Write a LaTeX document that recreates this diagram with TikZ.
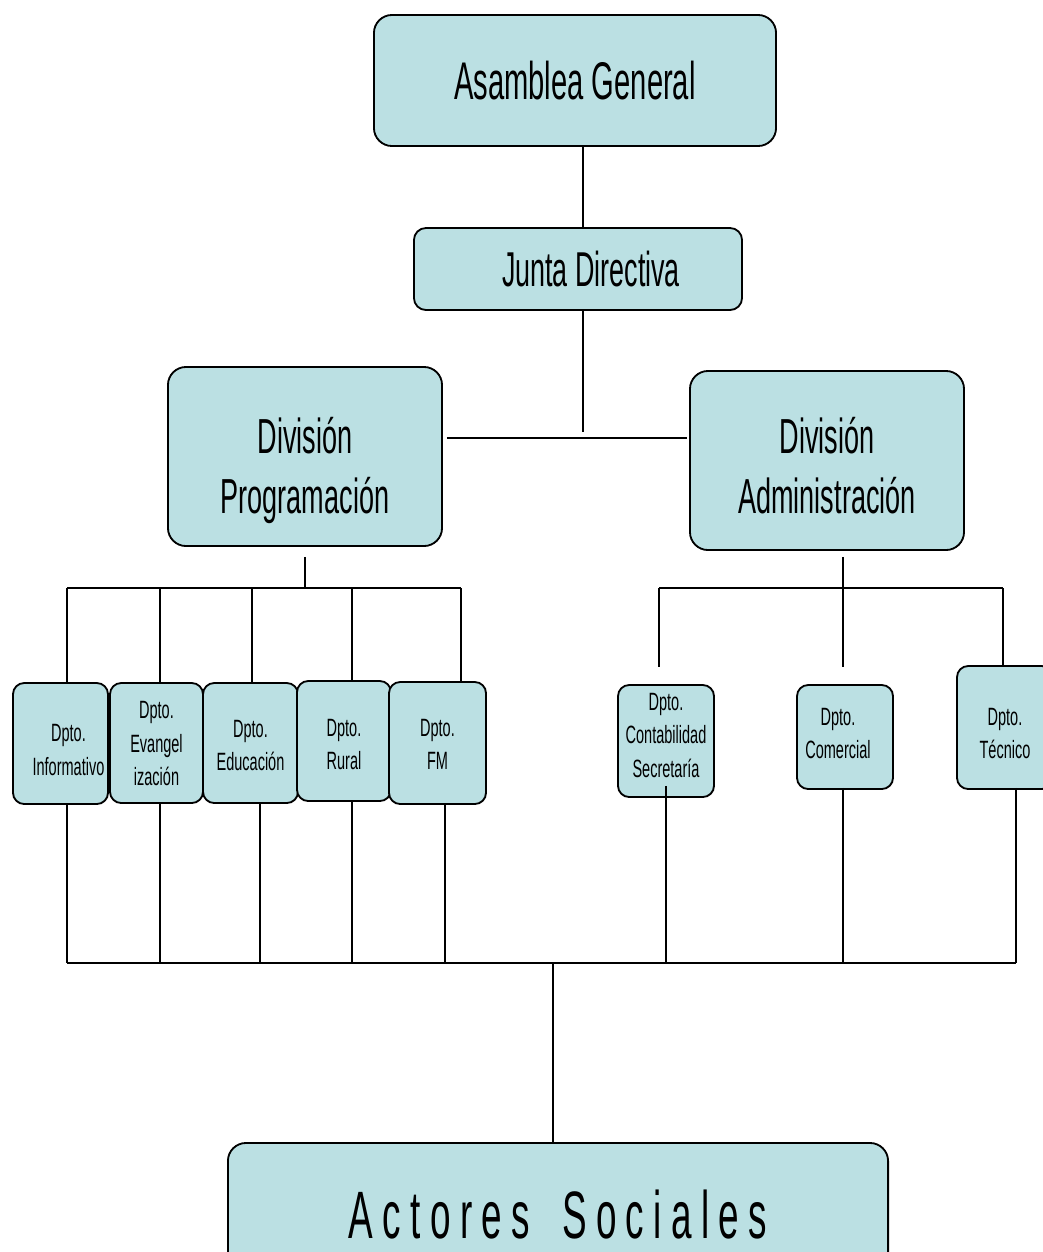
\documentclass[tikz,border=0pt]{standalone}
\usepackage{fontspec}
\setmainfont{Liberation Sans}
\newfontfamily\narrowbig[FakeStretch=0.55]{Liberation Sans}
\newfontfamily\narrowdept[FakeStretch=0.58]{Liberation Sans}
\newfontfamily\narrowwide[FakeStretch=0.55,LetterSpace=14]{Liberation Sans}
\definecolor{boxfill}{RGB}{187,224,227}

\begin{document}
\begin{tikzpicture}[x=0.025cm, y=-0.025cm,
  box/.style={draw=black, line width=1.3pt, fill=boxfill, rounded corners=0.45cm,
    align=center, inner sep=0pt},
  divbox/.style={box, minimum width=6.85cm, minimum height=4.475cm, text depth=0.2cm,
    font=\narrowbig\fontsize{35}{43}\selectfont},
  deptbox/.style={box, rounded corners=0.28cm, minimum width=2.4cm, text depth=0.2cm,
    font=\narrowdept\fontsize{17.8}{24}\selectfont},
  link/.style={line width=1.2pt},
  bus/.style={line width=2pt}]
  \useasboundingbox (0,0) rectangle (1042,1252);

  % top levels
  \node[box, minimum width=10.05cm, minimum height=3.275cm,
    font=\narrowbig\fontsize{37.7}{40}\selectfont] (asm) at (575,80.5) {Asamblea General};
  \node[box, rounded corners=0.3cm, minimum width=8.2cm, minimum height=2.05cm,
    font=\narrowbig\fontsize{34.8}{40}\selectfont] (junta) at (578,269) {\hspace*{0.65cm}Junta Directiva};
  \node[divbox, text height=3.065cm] (divprog) at (305,456.5) {División\\Programación};
  \node[divbox, text height=2.865cm] (divadm) at (827,460.5) {División\\Administración};

  % departamentos
  \node[deptbox, minimum width=2.375cm, minimum height=3.025cm, text height=1.785cm] (inf) at (60.5,743.5)
    {\hspace*{0.4cm}Dpto.\\\hspace*{0.4cm}Informativo};
  \node[deptbox, minimum width=2.325cm, minimum height=3cm, text height=2.34cm] (evan) at (156.5,743)
    {Dpto.\\Evangel\\ización};
  \node[deptbox, minimum width=2.375cm, minimum height=3cm, text height=1.5875cm] (edu) at (250.5,743)
    {Dpto.\\Educación};
  \node[deptbox, minimum width=2.35cm, minimum height=3cm, text height=1.6375cm] (rur) at (344,741)
    {Dpto.\\Rural};
  \node[deptbox, minimum width=2.425cm, minimum height=3.05cm, text height=1.5375cm] (fm) at (437.5,743)
    {Dpto.\\FM};
  \node[deptbox, minimum height=2.8cm, text height=2.025cm] (cont) at (666,741)
    {Dpto.\\Contabilidad\\Secretaría};
  \node[deptbox, minimum height=2.6cm, text height=1.2875cm] (com) at (845,737)
    {Dpto.\hspace*{0.35cm}\\Comercial\hspace*{0.35cm}};
  \node[deptbox, minimum height=3.075cm, text height=1.7625cm] (tec) at (1005,727.5)
    {Dpto.\\Técnico};

  \node[box, minimum width=16.5cm, minimum height=3.6cm,
    font=\narrowwide\fontsize{47.7}{50}\selectfont] (act) at (558,1215)
    {Actores\hspace{0.8cm}Sociales};

  \coordinate (jd) at (583,438);
  \coordinate (pbus) at (0,588);
  \coordinate (lbus) at (0,963);

  % connectors
  \draw[bus] ([xshift=0.2cm]asm.south) -- ([xshift=0.2cm]asm.south |- junta.north);
  \draw[link] (jd |- junta.south) -- ([yshift=0.15cm]jd);
  \draw[link] ([xshift=0.1cm]divprog.east |- jd) -- ([xshift=-0.05cm]divadm.west |- jd);

  \draw[link] ([yshift=-0.25cm]divprog.south) -- (divprog.south |- pbus);
  \draw[link] ([xshift=0.1625cm]inf.north |- pbus) -- ([xshift=0.5875cm]fm.north |- pbus);
  \foreach \n/\dt/\db in {inf/6.5/6.5, evan/3.5/3.5, edu/1.5/9.5, rur/8/8, fm/23.5/7.5}{
    \draw[link] ([xshift=\dt*0.025cm]\n.north) -- ([xshift=\dt*0.025cm]\n.north |- pbus);
    \draw[link] ([xshift=\db*0.025cm]\n.south) -- ([xshift=\db*0.025cm]\n.south |- lbus);
  }

  \draw[link] ([xshift=0.4cm,yshift=-0.15cm]divadm.south) -- ([xshift=0.4cm,yshift=0.425cm]divadm.south |- com.north);
  \draw[link] ([xshift=-0.175cm]cont.north |- pbus) -- ([xshift=-0.05cm]tec.north |- pbus);
  \draw[link] ([xshift=-0.175cm]cont.north |- pbus) -- ([xshift=-0.175cm,yshift=0.425cm]cont.north);
  \draw[link] ([xshift=-0.05cm]tec.north |- pbus) -- ([xshift=-0.05cm]tec.north);

  \draw[link] ([yshift=0.3cm]cont.south) -- (cont.south |- lbus);
  \draw[link] ([xshift=-0.05cm,yshift=0.05cm]com.south) -- ([xshift=-0.05cm]com.south |- lbus);
  \draw[link] ([xshift=0.275cm,yshift=0.05cm]tec.south) -- ([xshift=0.275cm]tec.south |- lbus);

  \draw[bus] ([xshift=0.1625cm]inf.south |- lbus) -- ([xshift=0.275cm]tec.south |- lbus);
  \draw[link] ([xshift=-0.125cm]act.north |- lbus) -- ([xshift=-0.125cm]act.north);
\end{tikzpicture}
\end{document}
